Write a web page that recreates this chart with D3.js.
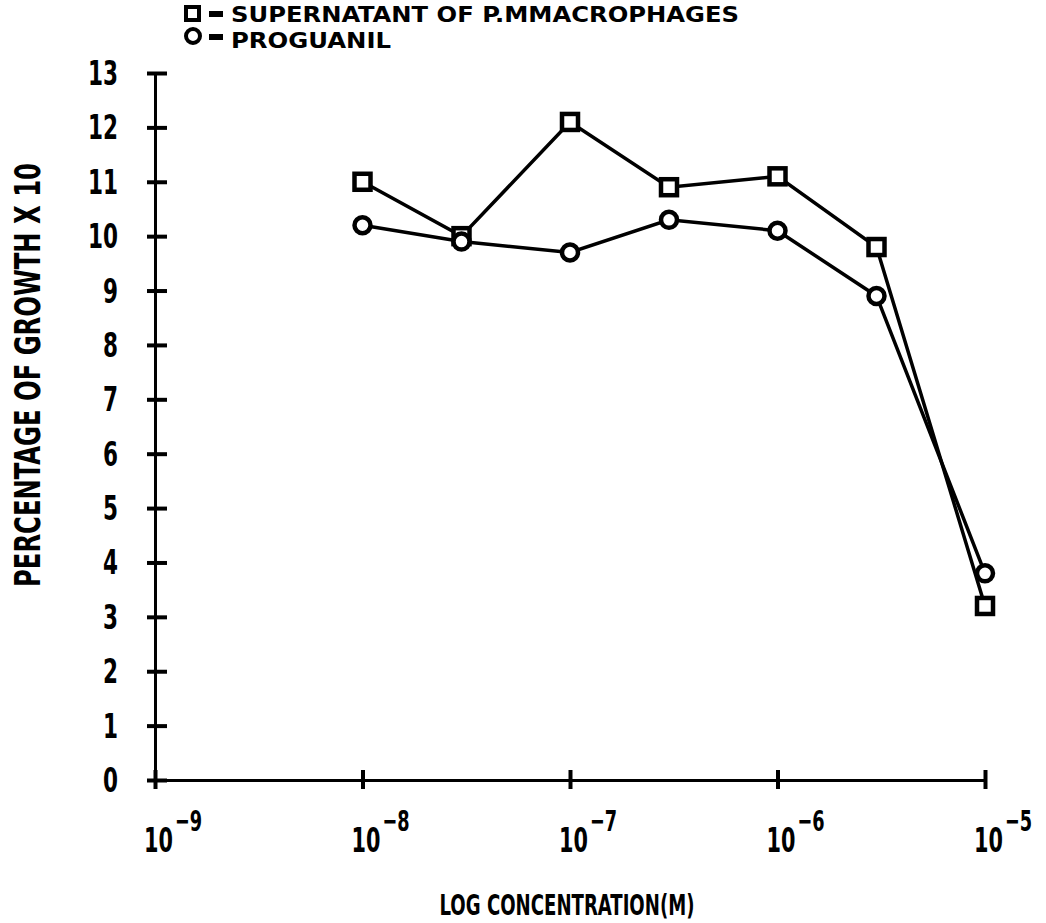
<!DOCTYPE html>
<html>
<head>
<meta charset="utf-8">
<script src="https://cdn.jsdelivr.net/npm/d3@7"></script>
<style>
  body { margin: 0; background: #fff; }
  svg text { font-family: "DejaVu Sans Condensed", "Liberation Sans Narrow", sans-serif; font-weight: bold; fill: #000; }
</style>
</head>
<body>
<svg id="chart" width="1046" height="923"></svg>
<script>
// concentrations (M) and growth values
var concentrations = [1e-8, 3e-8, 1e-7, 3e-7, 1e-6, 3e-6, 1e-5];
var supernatant = [11.0, 10.0, 12.1, 10.9, 11.1, 9.8, 3.2];
var proguanil = [10.2, 9.9, 9.7, 10.3, 10.1, 8.9, 3.8];
var yTicks = d3.range(0, 14);
var xTicks = [1e-9, 1e-8, 1e-7, 1e-6, 1e-5];
var xExponents = ["-9", "-8", "-7", "-6", "-5"];

var width = 1046, height = 923;

var svg = d3.select("#chart");

var x = d3.scaleLog().domain([1e-9, 1e-5]).range([155, 985]);
var y = d3.scaleLinear().domain([0, 13]).range([780, 73]);

// y axis: line plus ticks crossing it
var yAxis = svg.append("g")
  .attr("transform", "translate(155,0)")
  .call(d3.axisLeft(y).tickValues(yTicks).tickSize(0).tickFormat(""));
yAxis.select(".domain").attr("stroke", "#000").attr("stroke-width", 3);
yAxis.selectAll(".tick line")
  .attr("x1", -8).attr("x2", 12)
  .attr("stroke", "#000").attr("stroke-width", 4);

svg.append("g").selectAll("text")
  .data(yTicks)
  .enter()
  .append("text")
  .attr("x", 118)
  .attr("y", function(d){ return y(d) + 12; })
  .attr("text-anchor", "end")
  .style("font-size", "33px")
  .text(function(d){ return d; })
  .each(function(d){
    d3.select(this).attr("textLength", d >= 10 ? 30 : 15).attr("lengthAdjust", "spacingAndGlyphs");
  });

// x axis
var xAxis = svg.append("g")
  .attr("transform", "translate(0,780)")
  .call(d3.axisBottom(x).tickValues(xTicks).tickSize(0).tickFormat(""));
xAxis.select(".domain").attr("stroke", "#000").attr("stroke-width", 3);
xAxis.selectAll(".tick line")
  .attr("y1", -10).attr("y2", 9)
  .attr("stroke", "#000").attr("stroke-width", 4);

// tick labels: "10" with a raised exponent, squeezed horizontally
var xl = svg.append("g").selectAll("g")
  .data(xTicks)
  .enter()
  .append("g")
  .attr("transform", function(d){ return "translate(" + (x(d) - 11) + ",852) scale(0.68,1)"; })
  .append("text");
xl.append("tspan")
  .style("font-size", "34px")
  .text("10");
xl.append("tspan")
  .attr("dx", 3).attr("dy", -21)
  .style("font-size", "29px")
  .text(function(d, i){ return "\u2212" + xExponents[i].slice(1); });

// axis titles
svg.append("text")
  .attr("transform", "translate(40,375) rotate(-90)")
  .attr("text-anchor", "middle")
  .style("font-size", "36px")
  .attr("textLength", 424).attr("lengthAdjust", "spacingAndGlyphs")
  .text("PERCENTAGE OF GROWTH X 10");

svg.append("text")
  .attr("x", 567).attr("y", 915)
  .attr("text-anchor", "middle")
  .style("font-size", "28px")
  .attr("textLength", 255).attr("lengthAdjust", "spacingAndGlyphs")
  .text("LOG CONCENTRATION(M)");

// series
var line = d3.line()
  .x(function(d){ return x(d[0]); })
  .y(function(d){ return y(d[1]); });

function pairs(vals) {
  return concentrations.map(function(c, i){ return [c, vals[i]]; });
}

svg.append("path")
  .datum(pairs(supernatant))
  .attr("d", line)
  .attr("fill", "none").attr("stroke", "#000").attr("stroke-width", 3.5);
svg.append("path")
  .datum(pairs(proguanil))
  .attr("d", line)
  .attr("fill", "none").attr("stroke", "#000").attr("stroke-width", 3.5);

svg.append("g").selectAll("rect")
  .data(pairs(supernatant))
  .enter()
  .append("rect")
  .attr("x", function(d){ return x(d[0]) - 8; })
  .attr("y", function(d){ return y(d[1]) - 8; })
  .attr("width", 16).attr("height", 16)
  .attr("fill", "#fff").attr("stroke", "#000").attr("stroke-width", 4.5);

svg.append("g").selectAll("circle")
  .data(pairs(proguanil))
  .enter()
  .append("circle")
  .attr("cx", function(d){ return x(d[0]); })
  .attr("cy", function(d){ return y(d[1]); })
  .attr("r", 8)
  .attr("fill", "#fff").attr("stroke", "#000").attr("stroke-width", 4.5);

// legend
var legend = svg.append("g");
legend.append("rect")
  .attr("x", 186).attr("y", 7).attr("width", 13).attr("height", 13)
  .attr("fill", "#fff").attr("stroke", "#000").attr("stroke-width", 4);
legend.append("circle")
  .attr("cx", 193).attr("cy", 36).attr("r", 7)
  .attr("fill", "#fff").attr("stroke", "#000").attr("stroke-width", 4);
legend.append("rect").attr("x", 209).attr("y", 11).attr("width", 14).attr("height", 6).attr("fill", "#000");
legend.append("rect").attr("x", 209).attr("y", 34).attr("width", 14).attr("height", 6).attr("fill", "#000");
legend.append("text")
  .attr("x", 231).attr("y", 22)
  .style("font-size", "22px")
  .attr("textLength", 508).attr("lengthAdjust", "spacingAndGlyphs")
  .text("SUPERNATANT OF P.MMACROPHAGES");
legend.append("text")
  .attr("x", 231).attr("y", 48)
  .style("font-size", "22px")
  .attr("textLength", 160).attr("lengthAdjust", "spacingAndGlyphs")
  .text("PROGUANIL");
</script>
</body>
</html>
